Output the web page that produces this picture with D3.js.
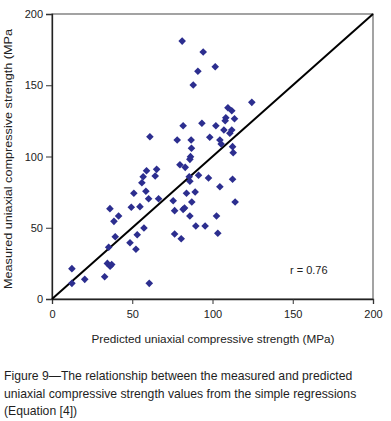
<!DOCTYPE html>
<html>
<head>
<meta charset="utf-8">
<script src="https://cdn.jsdelivr.net/npm/d3@7"></script>
<style>
  body { margin: 0; background: #fff; }
  svg { display: block; }
</style>
</head>
<body>
<div id="grafico"></div>
<script>
// predicted UCS (MPa) on x, measured UCS (MPa) on y
const predicted = [
    58.9, 65.2, 56.8, 64.3, 56.0, 51.0, 58.5, 60.2, 66.4, 36.1,
    49.4, 54.8, 41.5, 38.6, 57.3, 39.4, 53.1, 35.3, 48.6, 52.3,
    34.5, 37.2, 36.2, 12.4, 32.8, 12.4, 20.4, 60.6, 81.1, 94.2,
    101.7, 90.9, 88.0, 124.5, 109.6, 112.0, 108.3, 113.7, 107.9, 81.7,
    93.4, 102.1, 107.1, 112.0, 110.8, 61.0, 78.0, 86.7, 98.3, 104.6,
    105.4, 112.5, 86.9, 112.9, 86.3, 85.9, 79.7, 83.0, 91.3, 85.5,
    85.9, 97.5, 112.5, 104.6, 83.8, 89.2, 75.5, 87.1, 114.1, 76.4,
    81.7, 82.6, 85.9, 102.5, 89.6, 95.4, 103.3, 76.4, 80.5
];
const measured = [
    90.0, 91.0, 85.8, 86.3, 81.6, 74.2, 75.6, 70.4, 70.4, 63.4,
    64.4, 64.8, 58.2, 54.5, 49.8, 43.7, 45.1, 36.3, 39.5, 34.9,
    25.0, 24.2, 23.0, 21.3, 15.6, 11.0, 13.8, 11.0, 181.0, 173.3,
    163.0, 159.8, 150.2, 138.0, 134.2, 132.1, 127.2, 126.5, 125.1, 121.6,
    123.3, 121.6, 118.6, 118.6, 116.3, 113.9, 111.6, 111.6, 113.5, 111.6,
    108.8, 106.9, 105.8, 102.7, 99.9, 98.0, 94.2, 92.4, 86.8, 85.8,
    82.6, 84.9, 84.0, 78.8, 74.2, 75.1, 69.0, 68.1, 68.1, 62.0,
    62.9, 63.9, 58.2, 58.2, 51.2, 51.2, 46.1, 45.6, 42.3
];
const ticks = [0, 50, 100, 150, 200];
const fitLine = [0, 200]; // 1:1 line
const rLabel = "r = 0.76";
const xTitle = "Predicted uniaxial compressive strength (MPa)";
const yTitle = "Measured uniaxial compressive strength (MPa";
const caption = [
    "Figure 9\u2014The relationship between the measured and predicted",
    "uniaxial compressive strength values from the simple regressions",
    "(Equation [4])"
];

const width = 391;
const height = 421;
const margin = { top: 14, right: 18, bottom: 122, left: 52 };
const plotW = width - margin.left - margin.right;
const plotH = height - margin.top - margin.bottom;

const svg = d3.select('#grafico')
    .append('svg')
    .attr('width', width)
    .attr('height', height);

const g = svg.append('g')
    .attr('transform', `translate(${margin.left},${margin.top})`);

const x = d3.scaleLinear().domain([0, 200]).range([0, plotW]);
const y = d3.scaleLinear().domain([0, 200]).range([plotH, 0]);

// marco superior / derecho
g.append('rect')
    .attr('x', 0).attr('y', 0)
    .attr('width', plotW).attr('height', plotH)
    .attr('fill', 'none')
    .attr('stroke', '#666')
    .attr('stroke-width', 1.2);

const tickFont = "'Liberation Sans', Arial, sans-serif";

const xAxis = g.append('g')
    .attr('transform', `translate(0,${plotH})`)
    .call(d3.axisBottom(x).tickValues(ticks).tickSize(5).tickPadding(6).tickFormat(d3.format('d')));
const yAxis = g.append('g')
    .call(d3.axisLeft(y).tickValues(ticks).tickSize(6).tickPadding(3).tickFormat(d3.format('d')));

[xAxis, yAxis].forEach(a => {
    a.select('.domain').attr('stroke', '#222').attr('stroke-width', 1.3);
    a.selectAll('.tick line').attr('stroke', '#333');
    a.selectAll('.tick text')
        .attr('fill', '#222')
        .style('font-family', tickFont)
        .style('font-size', '11px');
});

// linea 1:1
g.append('line')
    .attr('x1', x(fitLine[0])).attr('y1', y(fitLine[0]))
    .attr('x2', x(fitLine[1])).attr('y2', y(fitLine[1]))
    .attr('stroke', '#000')
    .attr('stroke-width', 2);

// puntos (rombos)
const pts = predicted.map((p, i) => ({ p, m: measured[i] }));
const r = 3.8;
g.selectAll('path.pt')
    .data(pts)
    .enter()
    .append('path')
    .attr('class', 'pt')
    .attr('d', `M0,${-r}L${r},0L0,${r}L${-r},0Z`)
    .attr('transform', d => `translate(${x(d.p)},${y(d.m)})`)
    .attr('fill', '#2c2e8f');

g.append('text')
    .attr('x', x(160))
    .attr('y', y(20))
    .attr('dy', '0.35em')
    .attr('text-anchor', 'middle')
    .style('font-family', tickFont)
    .style('font-size', '11px')
    .attr('fill', '#222')
    .text(rLabel);

// titulos de ejes
svg.append('text')
    .attr('x', 213)
    .attr('y', 343)
    .attr('text-anchor', 'middle')
    .attr('textLength', 243)
    .attr('lengthAdjust', 'spacingAndGlyphs')
    .style('font-family', tickFont)
    .style('font-size', '11px')
    .attr('fill', '#222')
    .text(xTitle);

svg.append('text')
    .attr('transform', 'translate(12,159) rotate(-90)')
    .attr('text-anchor', 'middle')
    .attr('textLength', 260)
    .attr('lengthAdjust', 'spacingAndGlyphs')
    .style('font-family', tickFont)
    .style('font-size', '11px')
    .attr('fill', '#222')
    .text(yTitle);

// pie de figura
svg.append('g')
    .selectAll('text')
    .data(caption)
    .enter()
    .append('text')
    .attr('x', 4)
    .attr('y', (d, i) => 380 + i * 17.5)
    .style('font-family', "'Liberation Sans', Arial, sans-serif")
    .style('font-size', '12.2px')
    .attr('fill', '#1e1e1e')
    .text(d => d);
</script>
</body>
</html>
